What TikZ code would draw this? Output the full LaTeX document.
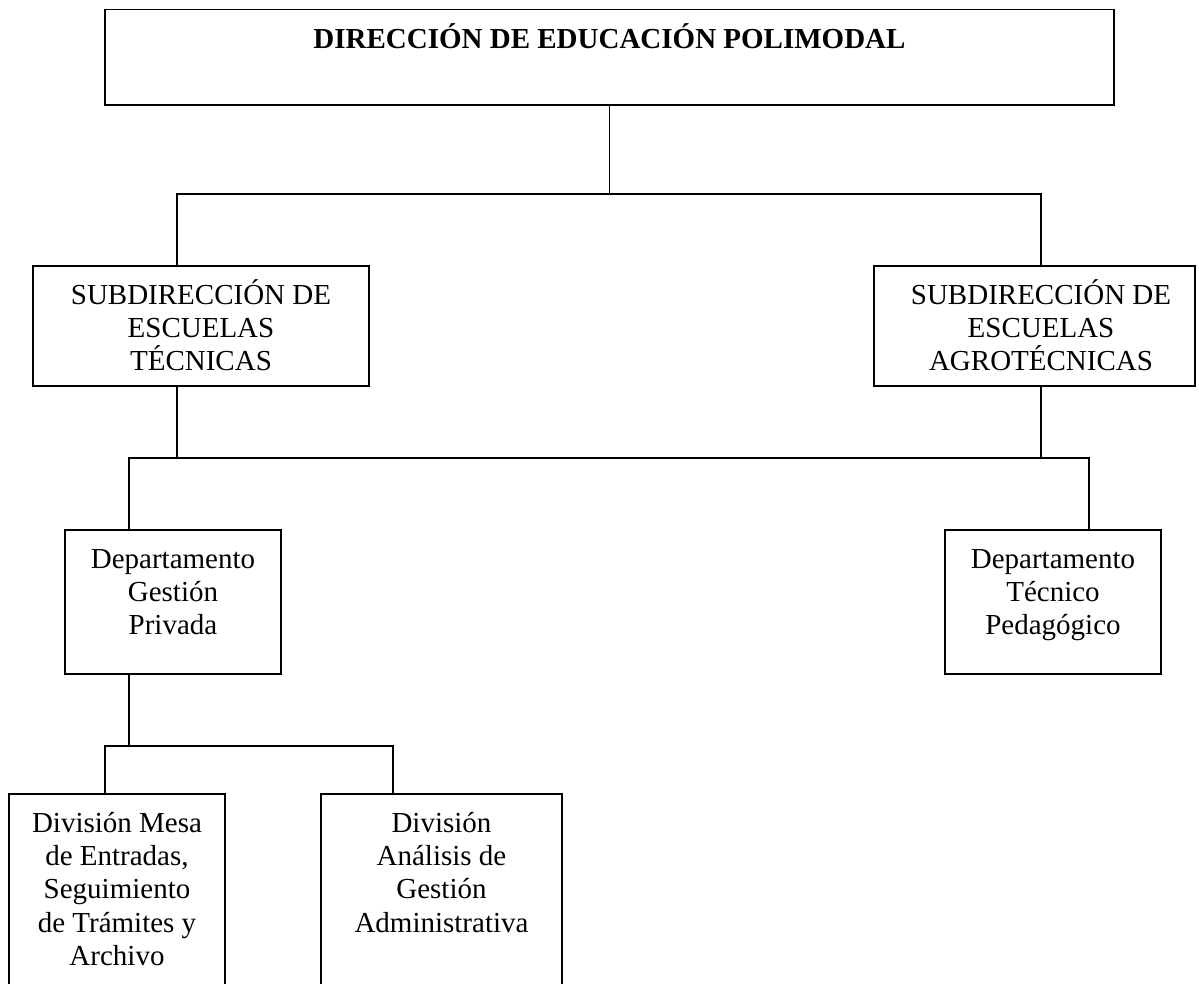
\documentclass[tikz,border=0pt]{standalone}
\usepackage{fontspec}
\setmainfont{Liberation Serif}
\usetikzlibrary{calc,fit}
\begin{document}
\begin{tikzpicture}[x=0.75pt,y=-0.75pt,
  box/.style={draw, line width=1.3pt, rectangle, inner sep=0pt},
  lbl/.style={anchor=base, inner sep=0pt, font=\fontsize{21.75}{25.1}\selectfont},
  wire/.style={line width=1.3pt, line join=miter}]
\useasboundingbox (0,0) rectangle (1199,983);
\clip (0,0) rectangle (1199,983);

% boxes
\node[box, fit={(105,9.5) (1114,105)}] (dir) {};
\node[box, fit={(33,266) (369,386)}] (subT) {};
\node[box, fit={(874,266) (1195,386)}] (subA) {};
\node[box, fit={(65,530) (281,674)}] (depP) {};
\node[box, fit={(945,530) (1161,674)}] (depT) {};
\node[box, fit={(9,794) (225,1010)}] (divM) {};
\node[box, fit={(321,794) (562,1010)}] (divA) {};

% texts
\node[lbl] (dirt) at (609.5,48) {\bfseries DIRECCIÓN DE EDUCACIÓN POLIMODAL};
\node[lbl] (subTt) at (201,304) {\parbox[t]{300pt}{\centering SUBDIRECCIÓN DE\\ESCUELAS\\TÉCNICAS}};
\node[lbl] (subAt) at (1041,304) {\parbox[t]{300pt}{\centering SUBDIRECCIÓN DE\\ESCUELAS\\AGROTÉCNICAS}};
\node[lbl] (depPt) at (173,568) {\parbox[t]{200pt}{\centering Departamento\\Gestión\\Privada}};
\node[lbl] (depTt) at (1053,568) {\parbox[t]{200pt}{\centering Departamento\\Técnico\\Pedagógico}};
\node[lbl] (divMt) at (117,832) {\parbox[t]{200pt}{\centering División Mesa\\de Entradas,\\Seguimiento\\de Trámites y\\Archivo}};
\node[lbl] (divAt) at (441.5,832) {\parbox[t]{200pt}{\centering División\\Análisis de\\Gestión\\Administrativa}};

% junction points of the connectors
\coordinate (a0) at (609.5,194);
\coordinate (aL) at (177,194);
\coordinate (aR) at (1041,194);
\coordinate (bL) at (129,458);
\coordinate (bT) at (177,458);
\coordinate (bA) at (1041,458);
\coordinate (bR) at (1089,458);
\coordinate (c0) at (129,746);
\coordinate (cL) at (105,746);
\coordinate (cR) at (393,746);

% connectors
\draw[wire] (dir.south) -- (a0);
\draw[wire] (aL |- subT.north) -- (aL) -- (aR) -- (aR |- subA.north);
\draw[wire] (bT |- subT.south) -- (bT);
\draw[wire] (bA |- subA.south) -- (bA);
\draw[wire] (bL |- depP.north) -- (bL) -- (bR) -- (bR |- depT.north);
\draw[wire] (c0 |- depP.south) -- (c0);
\draw[wire] (cL |- divM.north) -- (cL) -- (cR) -- (cR |- divA.north);
\end{tikzpicture}
\end{document}
